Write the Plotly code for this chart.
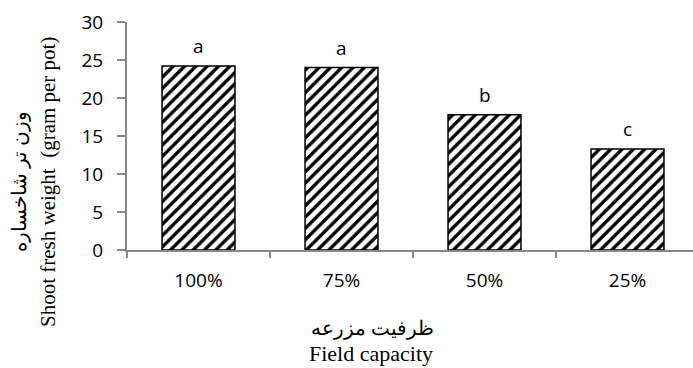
import plotly.graph_objects as go

categories = ["100%", "75%", "50%", "25%"]
values = [24.2, 24.0, 17.8, 13.3]
letters = ["a", "a", "b", "c"]
y_ticks = [0, 5, 10, 15, 20, 25, 30]

W, H = 693, 368
L, T, B, R = 127, 22, 118, 0
PW, PH = W - L - R, H - T - B


def px_x(p):
    return (p - L) / PW


def px_y(p):
    return (H - B - p) / PH


fig = go.Figure()
fig.add_trace(go.Bar(
    x=categories, y=values, width=0.51,
    marker=dict(color="white",
                line=dict(color="black", width=1.5),
                pattern=dict(shape="/", size=8, solidity=0.42,
                             fgcolor="black", bgcolor="white", fgopacity=1)),
    hoverinfo="skip",
))

for c, v, t in zip(categories, values, letters):
    fig.add_annotation(x=c, y=v, text=t, showarrow=False, yshift=20,
                       yanchor="middle",
                       font=dict(family="Open Sans", size=19, color="black"))

# y title (two lines, rotated)
fig.add_annotation(xref="paper", yref="paper", x=px_x(48), y=px_y(182),
                   xanchor="center", yanchor="middle",
                   text="Shoot fresh weight  (gram per pot)", textangle=-90,
                   showarrow=False,
                   font=dict(family="Liberation Serif", size=21, color="black"))
fig.add_annotation(xref="paper", yref="paper", x=px_x(19), y=px_y(182),
                   xanchor="center", yanchor="middle",
                   text="وزن تر شاخساره", textangle=-90, showarrow=False,
                   font=dict(family="Liberation Serif", size=20, color="black"))
# x title (two lines)
fig.add_annotation(xref="paper", yref="paper", x=px_x(372), y=px_y(328),
                   xanchor="center", yanchor="middle",
                   text="ظرفیت مزرعه", showarrow=False,
                   font=dict(family="Liberation Serif", size=20, color="black"))
fig.add_annotation(xref="paper", yref="paper", x=px_x(371), y=px_y(353),
                   xanchor="center", yanchor="middle",
                   text="Field capacity", showarrow=False,
                   font=dict(family="Liberation Serif", size=22, color="black"))

fig.update_layout(
    width=W, height=H, margin=dict(l=L, r=R, t=T, b=B),
    paper_bgcolor="white", plot_bgcolor="white", showlegend=False,
    xaxis=dict(range=[-0.5, 3.458], showline=True, linecolor="#888888", linewidth=2,
               ticks="outside", ticklen=6, tickcolor="#888888", tickwidth=1.5,
               tickson="boundaries", showgrid=False, zeroline=False,
               ticklabelstandoff=12,
               tickfont=dict(family="Open Sans", size=19, color="black")),
    yaxis=dict(range=[0, 30], tickvals=y_ticks, showline=True, linecolor="#888888",
               linewidth=2, ticks="outside", ticklen=8, tickcolor="#888888",
               tickwidth=1.5, showgrid=False, zeroline=False,
               ticklabelstandoff=10,
               tickfont=dict(family="Open Sans", size=19, color="black")),
)
fig.write_html("out.html")
